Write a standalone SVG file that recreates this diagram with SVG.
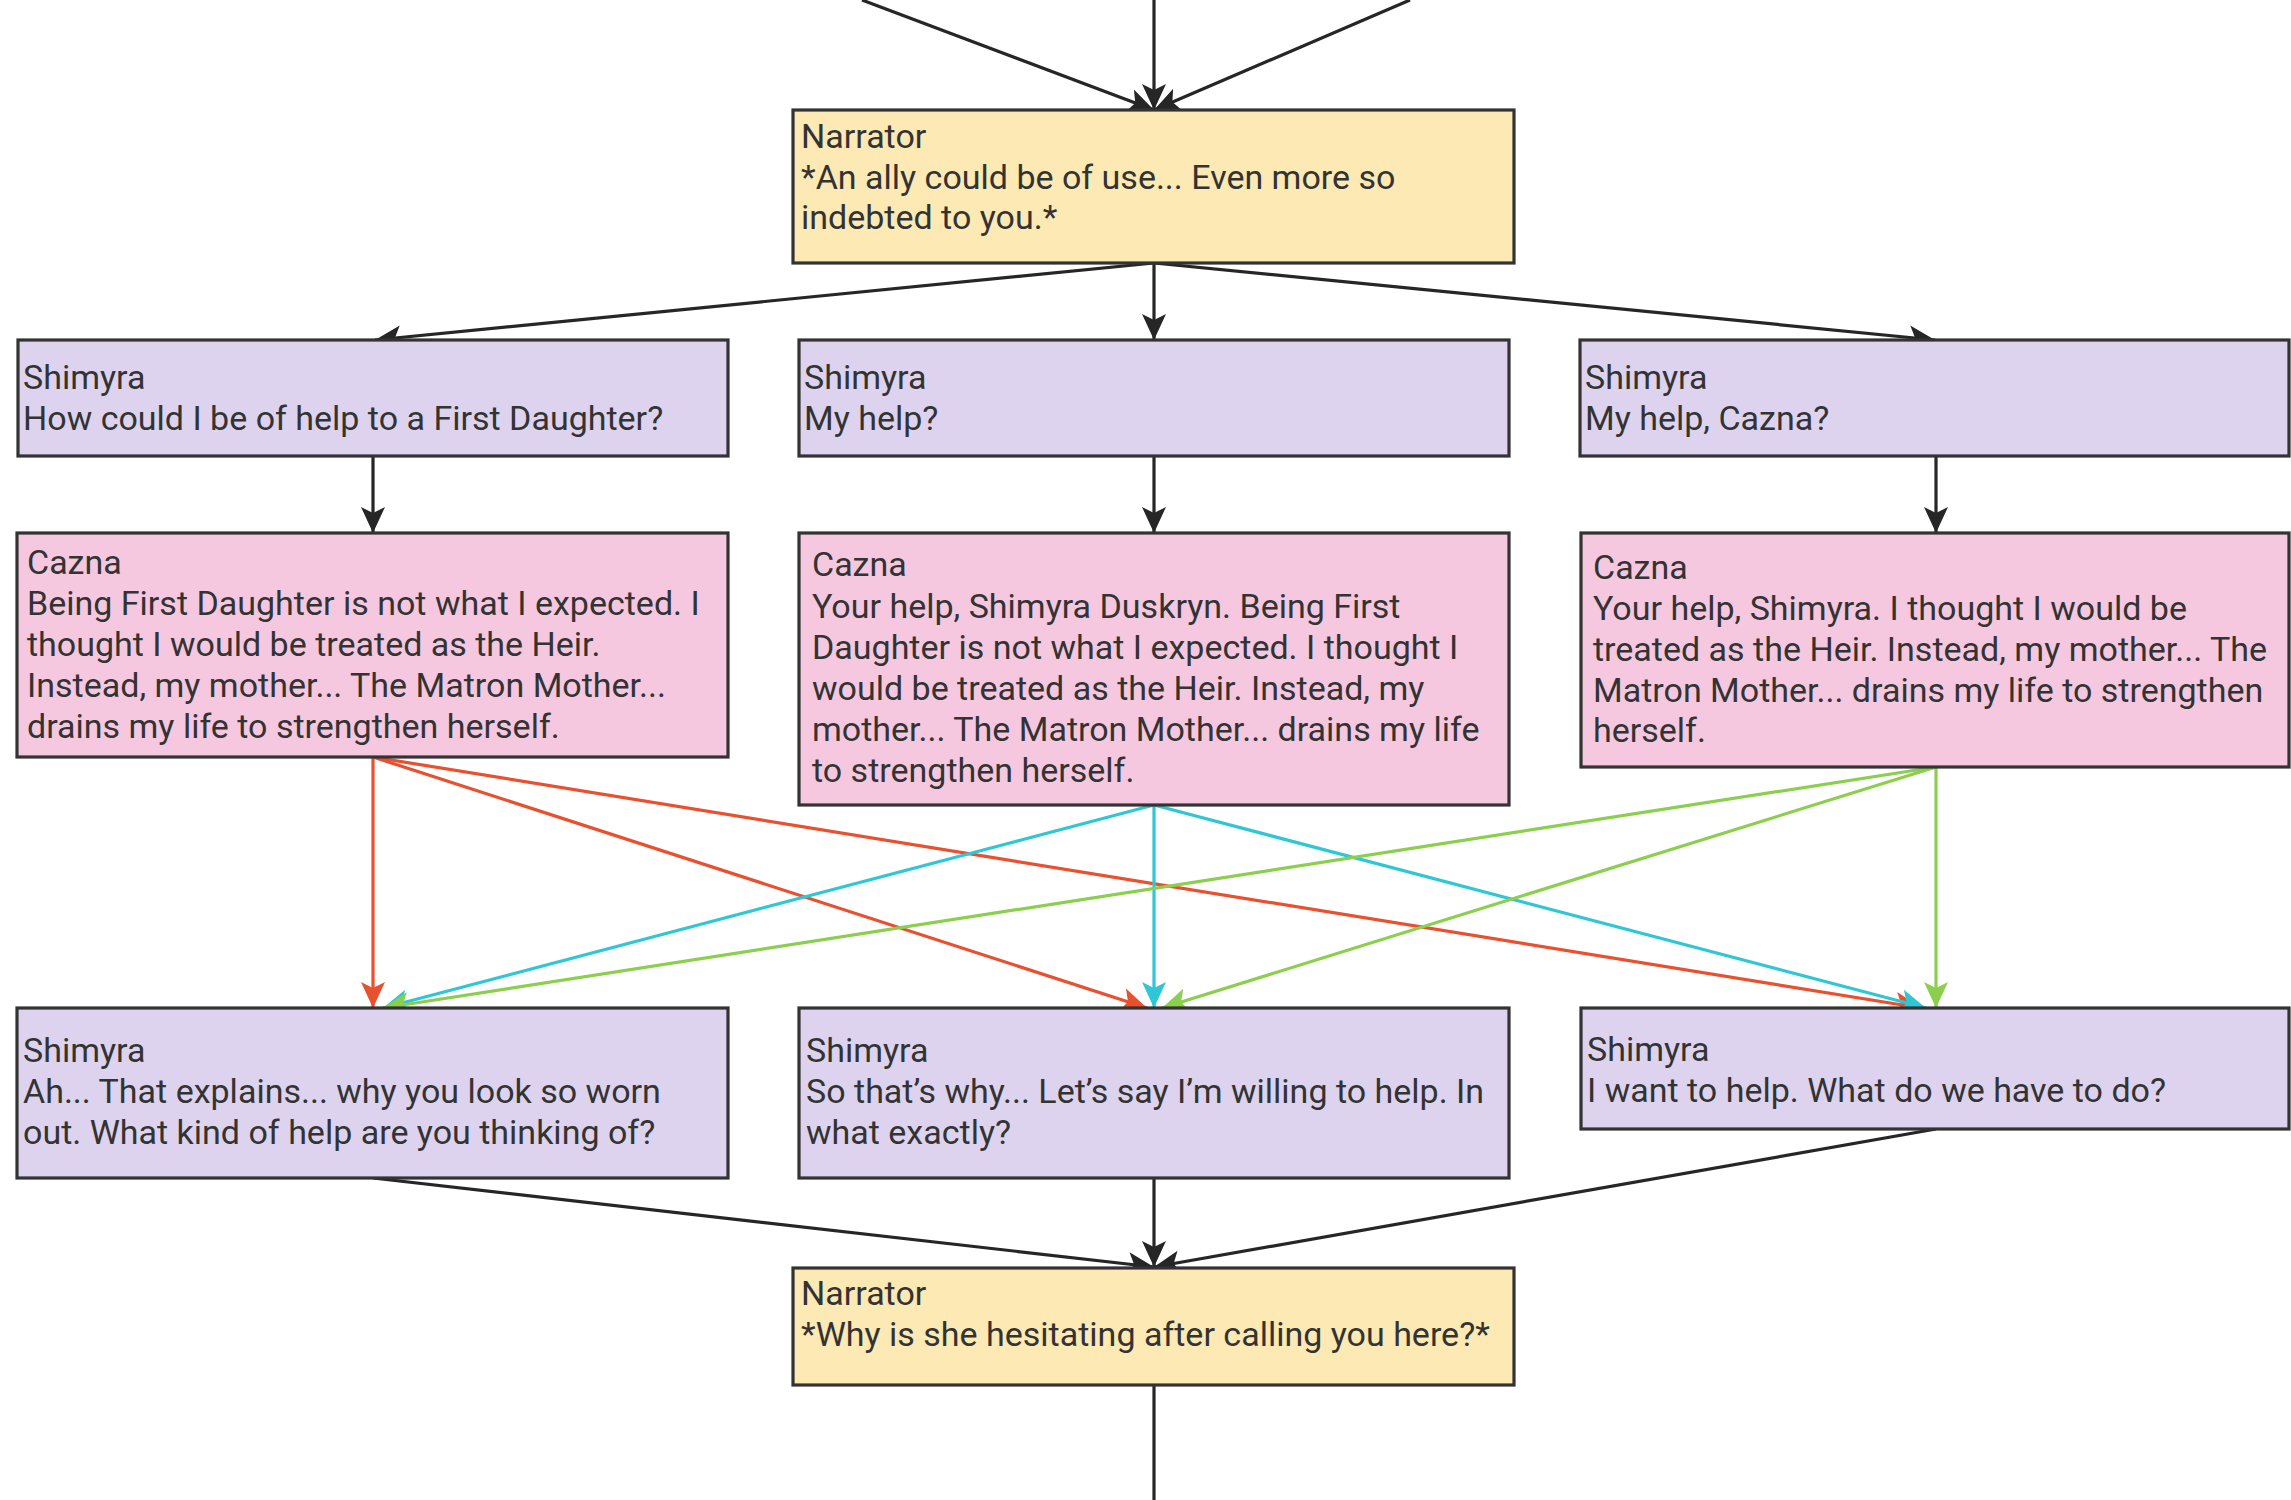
<svg xmlns="http://www.w3.org/2000/svg" width="2291" height="1500" viewBox="0 0 2291 1500">
<style>
.box{stroke:#333;stroke-width:3.2}
.nar{fill:#fce9b3}
.shi{fill:#ddd3ee}
.caz{fill:#f5c8df}
text{font-family:Roboto,"Liberation Sans",sans-serif;font-size:34px;fill:#333}
.k{fill:none;stroke:#262626;stroke-width:3.2}
.r{fill:none;stroke:#e8502f;stroke-width:3.2}
.c{fill:none;stroke:#2fc6d6;stroke-width:3.2}
.g{fill:none;stroke:#8ccf4f;stroke-width:3.2}
</style>
<defs>
<marker id="ak" markerUnits="userSpaceOnUse" markerWidth="28" markerHeight="26" refX="26" refY="13" orient="auto"><path d="M0,1 L26,13 L0,25 L6,13 z" fill="#262626"/></marker>
<marker id="ar" markerUnits="userSpaceOnUse" markerWidth="28" markerHeight="26" refX="26" refY="13" orient="auto"><path d="M0,1 L26,13 L0,25 L6,13 z" fill="#e8502f"/></marker>
<marker id="ac" markerUnits="userSpaceOnUse" markerWidth="28" markerHeight="26" refX="26" refY="13" orient="auto"><path d="M0,1 L26,13 L0,25 L6,13 z" fill="#2fc6d6"/></marker>
<marker id="ag" markerUnits="userSpaceOnUse" markerWidth="28" markerHeight="26" refX="26" refY="13" orient="auto"><path d="M0,1 L26,13 L0,25 L6,13 z" fill="#8ccf4f"/></marker>
</defs>
<rect width="2291" height="1500" fill="#ffffff"/>
<g id="connectors">
<path class="k" d="M862,0 L1154,110" marker-end="url(#ak)"/>
<path class="k" d="M1154,0 L1154,110" marker-end="url(#ak)"/>
<path class="k" d="M1410,0 L1154,110" marker-end="url(#ak)"/>
<path class="k" d="M1154,263 L375,340" marker-end="url(#ak)"/>
<path class="k" d="M1154,263 L1154,340" marker-end="url(#ak)"/>
<path class="k" d="M1154,263 L1935,340" marker-end="url(#ak)"/>
<path class="k" d="M373,456 L373,533" marker-end="url(#ak)"/>
<path class="k" d="M1154,456 L1154,533" marker-end="url(#ak)"/>
<path class="k" d="M1936,456 L1936,533" marker-end="url(#ak)"/>
<path class="r" d="M373,757 L373,1008" marker-end="url(#ar)"/>
<path class="r" d="M373,757 L1147,1008" marker-end="url(#ar)"/>
<path class="r" d="M373,757 L1921,1008" marker-end="url(#ar)"/>
<path class="c" d="M1154,805 L383,1008" marker-end="url(#ac)"/>
<path class="c" d="M1154,805 L1154,1008" marker-end="url(#ac)"/>
<path class="c" d="M1154,805 L1926,1008" marker-end="url(#ac)"/>
<path class="g" d="M1936,767 L383,1008" marker-end="url(#ag)"/>
<path class="g" d="M1936,767 L1162,1008" marker-end="url(#ag)"/>
<path class="g" d="M1936,767 L1936,1008" marker-end="url(#ag)"/>
<path class="k" d="M373,1178 L1154,1267" marker-end="url(#ak)"/>
<path class="k" d="M1154,1178 L1154,1267" marker-end="url(#ak)"/>
<path class="k" d="M1936,1129 L1154,1267" marker-end="url(#ak)"/>
<path class="k" d="M1154,1385 L1154,1500"/>
</g>
<g id="narrator1">
<rect class="box nar" x="793" y="110" width="721" height="153"/>
<text x="801" y="148">Narrator</text>
<text x="801" y="189">*An ally could be of use... Even more so</text>
<text x="801" y="229">indebted to you.*</text>
</g>
<g id="shimyra1">
<rect class="box shi" x="18" y="340" width="710" height="116"/>
<text x="23" y="389">Shimyra</text>
<text x="23" y="430">How could I be of help to a First Daughter?</text>
</g>
<g id="shimyra2">
<rect class="box shi" x="799" y="340" width="710" height="116"/>
<text x="804" y="389">Shimyra</text>
<text x="804" y="430">My help?</text>
</g>
<g id="shimyra3">
<rect class="box shi" x="1580" y="340" width="709" height="116"/>
<text x="1585" y="389">Shimyra</text>
<text x="1585" y="430">My help, Cazna?</text>
</g>
<g id="cazna1">
<rect class="box caz" x="17" y="533" width="711" height="224"/>
<text x="27" y="574">Cazna</text>
<text x="27" y="615">Being First Daughter is not what I expected. I</text>
<text x="27" y="656">thought I would be treated as the Heir.</text>
<text x="27" y="697">Instead, my mother... The Matron Mother...</text>
<text x="27" y="738">drains my life to strengthen herself.</text>
</g>
<g id="cazna2">
<rect class="box caz" x="799" y="533" width="710" height="272"/>
<text x="812" y="576">Cazna</text>
<text x="812" y="618">Your help, Shimyra Duskryn. Being First</text>
<text x="812" y="659">Daughter is not what I expected. I thought I</text>
<text x="812" y="700">would be treated as the Heir. Instead, my</text>
<text x="812" y="741">mother... The Matron Mother... drains my life</text>
<text x="812" y="782">to strengthen herself.</text>
</g>
<g id="cazna3">
<rect class="box caz" x="1581" y="533" width="708" height="234"/>
<text x="1593" y="579">Cazna</text>
<text x="1593" y="620">Your help, Shimyra. I thought I would be</text>
<text x="1593" y="661">treated as the Heir. Instead, my mother... The</text>
<text x="1593" y="702">Matron Mother... drains my life to strengthen</text>
<text x="1593" y="742">herself.</text>
</g>
<g id="shimyra4">
<rect class="box shi" x="17" y="1008" width="711" height="170"/>
<text x="23" y="1062">Shimyra</text>
<text x="23" y="1103">Ah... That explains... why you look so worn</text>
<text x="23" y="1144">out. What kind of help are you thinking of?</text>
</g>
<g id="shimyra5">
<rect class="box shi" x="799" y="1008" width="710" height="170"/>
<text x="806" y="1062">Shimyra</text>
<text x="806" y="1103">So that’s why... Let’s say I’m willing to help. In</text>
<text x="806" y="1144">what exactly?</text>
</g>
<g id="shimyra6">
<rect class="box shi" x="1581" y="1008" width="708" height="121"/>
<text x="1587" y="1061">Shimyra</text>
<text x="1587" y="1102">I want to help. What do we have to do?</text>
</g>
<g id="narrator2">
<rect class="box nar" x="793" y="1268" width="721" height="117"/>
<text x="801" y="1305">Narrator</text>
<text x="801" y="1346">*Why is she hesitating after calling you here?*</text>
</g>
</svg>
